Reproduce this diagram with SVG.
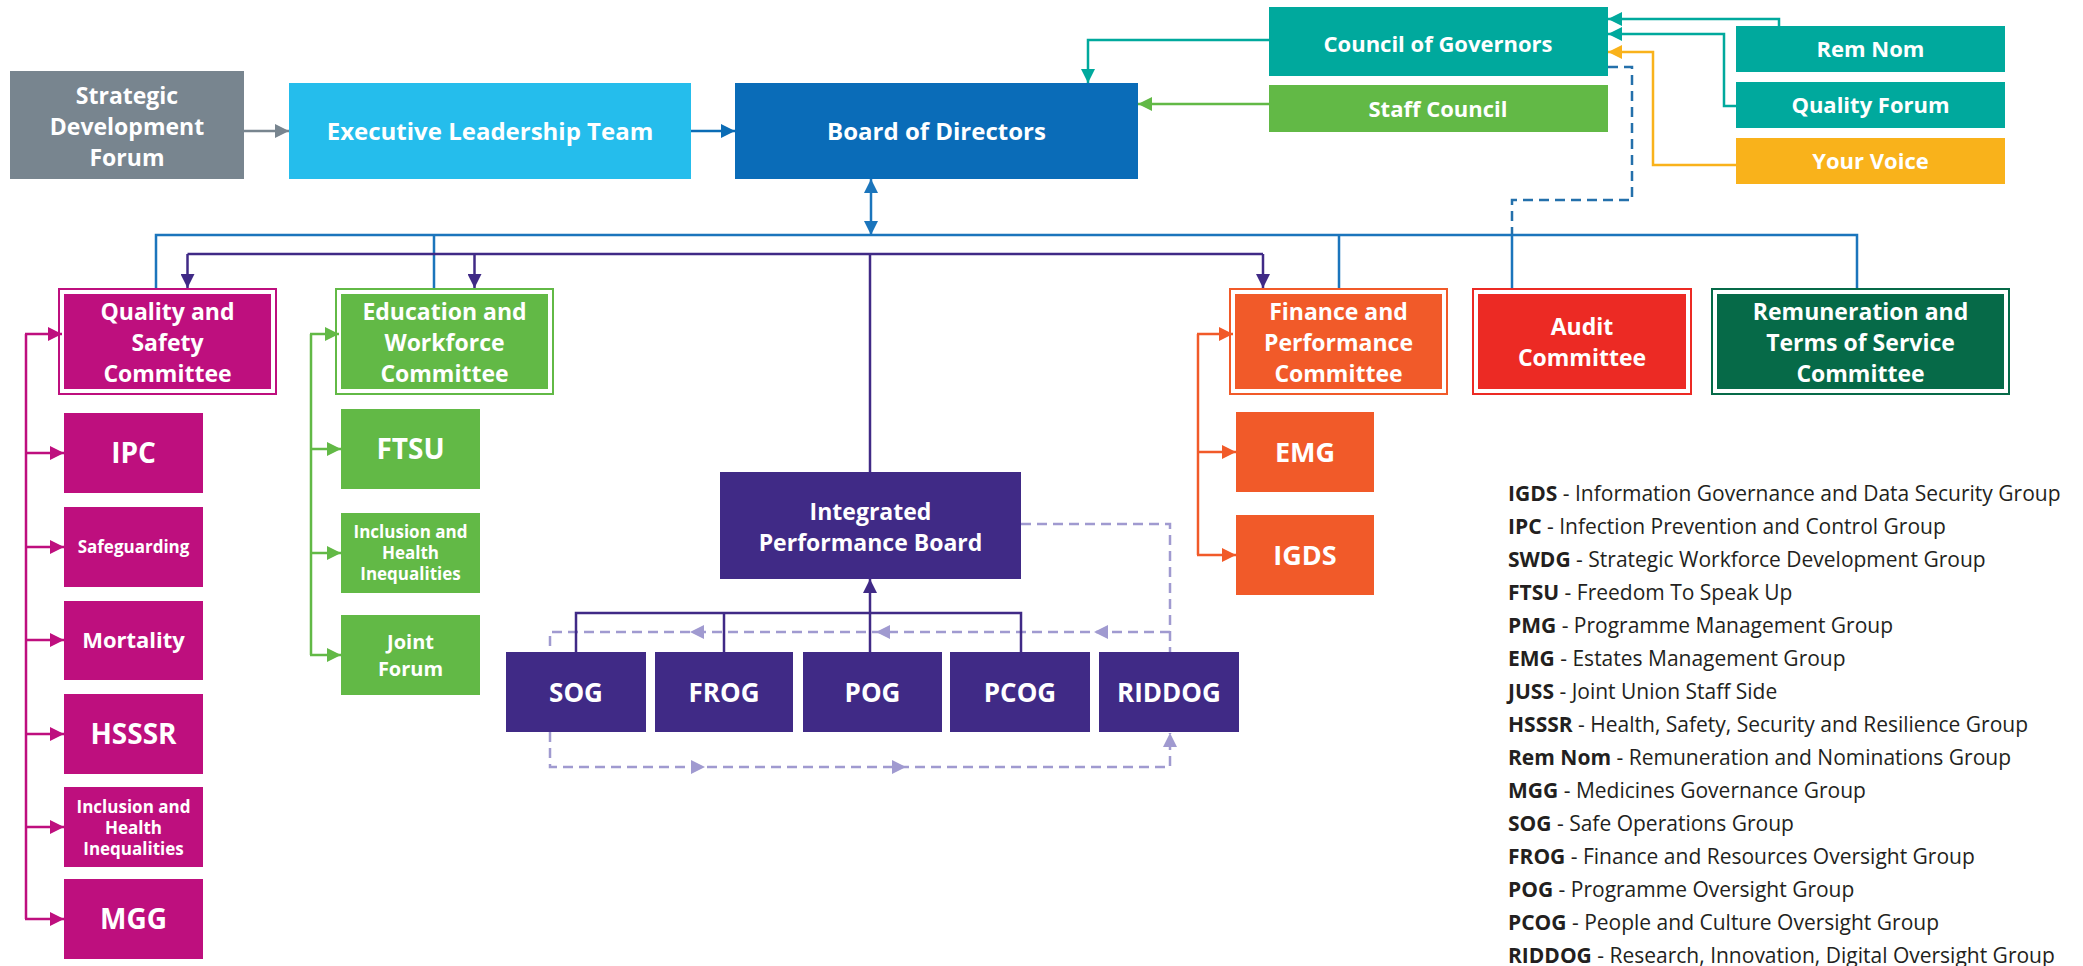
<svg xmlns="http://www.w3.org/2000/svg" width="2083" height="966" viewBox="0 0 2083 966">
<style>
.t{font-family:"Open Sans","Noto Sans",sans-serif;font-weight:700;fill:#fff;text-anchor:middle}
.lg{font-family:"Open Sans","Noto Sans",sans-serif;font-size:21px;fill:#231f20}
.b{font-weight:700}
.c{fill:none;stroke-width:2.5}
.dash{stroke-dasharray:10 6}
</style>
<defs>
<marker id="aGray" markerUnits="userSpaceOnUse" markerWidth="14" markerHeight="14" refX="14" refY="7" orient="auto"><path d="M0,0L14,7L0,14z" fill="#78858f"/></marker>
<marker id="aBoard" markerUnits="userSpaceOnUse" markerWidth="14" markerHeight="14" refX="14" refY="7" orient="auto"><path d="M0,0L14,7L0,14z" fill="#0b6cb5"/></marker>
<marker id="aBlue" markerUnits="userSpaceOnUse" markerWidth="14" markerHeight="14" refX="14" refY="7" orient="auto-start-reverse"><path d="M0,0L14,7L0,14z" fill="#1b75bc"/></marker>
<marker id="aTeal" markerUnits="userSpaceOnUse" markerWidth="14" markerHeight="14" refX="14" refY="7" orient="auto"><path d="M0,0L14,7L0,14z" fill="#00a99d"/></marker>
<marker id="aGreen" markerUnits="userSpaceOnUse" markerWidth="14" markerHeight="14" refX="14" refY="7" orient="auto"><path d="M0,0L14,7L0,14z" fill="#62b946"/></marker>
<marker id="aYellow" markerUnits="userSpaceOnUse" markerWidth="14" markerHeight="14" refX="14" refY="7" orient="auto"><path d="M0,0L14,7L0,14z" fill="#f9b21b"/></marker>
<marker id="aMag" markerUnits="userSpaceOnUse" markerWidth="14" markerHeight="14" refX="14" refY="7" orient="auto"><path d="M0,0L14,7L0,14z" fill="#be0f7e"/></marker>
<marker id="aOrange" markerUnits="userSpaceOnUse" markerWidth="14" markerHeight="14" refX="14" refY="7" orient="auto"><path d="M0,0L14,7L0,14z" fill="#f15a29"/></marker>
<marker id="aPurple" markerUnits="userSpaceOnUse" markerWidth="14" markerHeight="14" refX="14" refY="7" orient="auto"><path d="M0,0L14,7L0,14z" fill="#402a86"/></marker>
<marker id="aLav" markerUnits="userSpaceOnUse" markerWidth="14" markerHeight="14" refX="14" refY="7" orient="auto"><path d="M0,0L14,7L0,14z" fill="#a09ad0"/></marker>
</defs>
<rect width="2083" height="966" fill="#fff"/>

<g id="connectors">
  <path class="c" stroke="#78858f" d="M244,131H289" marker-end="url(#aGray)"/>
  <path class="c" stroke="#0b6cb5" d="M691,131H735" marker-end="url(#aBoard)"/>
  <path class="c" stroke="#00a99d" d="M1269,40H1088V83" marker-end="url(#aTeal)"/>
  <path class="c" stroke="#62b946" d="M1269,104H1138" marker-end="url(#aGreen)"/>
  <path class="c" stroke="#00a99d" d="M1779,26V19H1608" marker-end="url(#aTeal)"/>
  <path class="c" stroke="#00a99d" d="M1736,106H1724V34H1608" marker-end="url(#aTeal)"/>
  <path class="c" stroke="#f9b21b" d="M1736,165H1653V52H1608" marker-end="url(#aYellow)"/>
  <path class="c dash" stroke="#2470ab" d="M1608,67H1632V200H1512V235"/>
  <path class="c" stroke="#1b75bc" d="M871,179V235" marker-start="url(#aBlue)" marker-end="url(#aBlue)"/>
  <path class="c" stroke="#1b75bc" d="M156,288V235H1857V288M434,235V288M1339,235V288M1512,235V288"/>
  <path class="c" stroke="#402a86" d="M187.5,254H1263"/>
  <path class="c" stroke="#402a86" d="M187.5,254V288" marker-end="url(#aPurple)"/>
  <path class="c" stroke="#402a86" d="M474.5,254V288" marker-end="url(#aPurple)"/>
  <path class="c" stroke="#402a86" d="M1263,254V288" marker-end="url(#aPurple)"/>
  <path class="c" stroke="#402a86" d="M870,254V472"/>
  <path class="c" stroke="#be0f7e" d="M26,334V919"/>
  <path class="c" stroke="#be0f7e" d="M25,334H62" marker-end="url(#aMag)"/>
  <path class="c" stroke="#be0f7e" d="M26,453H64" marker-end="url(#aMag)"/>
  <path class="c" stroke="#be0f7e" d="M26,547H64" marker-end="url(#aMag)"/>
  <path class="c" stroke="#be0f7e" d="M26,640H64" marker-end="url(#aMag)"/>
  <path class="c" stroke="#be0f7e" d="M26,734H64" marker-end="url(#aMag)"/>
  <path class="c" stroke="#be0f7e" d="M26,827H64" marker-end="url(#aMag)"/>
  <path class="c" stroke="#be0f7e" d="M25,919H64" marker-end="url(#aMag)"/>
  <path class="c" stroke="#62b946" d="M311,334V655"/>
  <path class="c" stroke="#62b946" d="M310,334H339" marker-end="url(#aGreen)"/>
  <path class="c" stroke="#62b946" d="M311,449H341" marker-end="url(#aGreen)"/>
  <path class="c" stroke="#62b946" d="M311,553H341" marker-end="url(#aGreen)"/>
  <path class="c" stroke="#62b946" d="M310,655H341" marker-end="url(#aGreen)"/>
  <path class="c" stroke="#f15a29" d="M1198,334V555"/>
  <path class="c" stroke="#f15a29" d="M1197,334H1233" marker-end="url(#aOrange)"/>
  <path class="c" stroke="#f15a29" d="M1198,452H1236" marker-end="url(#aOrange)"/>
  <path class="c" stroke="#f15a29" d="M1197,555H1236" marker-end="url(#aOrange)"/>
  <path class="c dash" stroke="#a09ad0" d="M1021,524H1170V652M1170,632H550V652"/>
  <path class="c dash" stroke="#a09ad0" d="M550,732V767H1170V733" marker-end="url(#aLav)"/>
  <g fill="#a09ad0">
    <path d="M1094,632L1108,625V639z"/>
    <path d="M876,632L890,625V639z"/>
    <path d="M690,632L704,625V639z"/>
    <path d="M705,767L691,760V774z"/>
    <path d="M906,767L892,760V774z"/>
  </g>
  <path class="c" stroke="#402a86" d="M576,652V613H1021V652M724,613V652"/>
  <path class="c" stroke="#402a86" d="M870,652V579" marker-end="url(#aPurple)"/>
</g>

<g id="n-sdf"><rect x="10" y="71" width="234" height="108" fill="#78858f"/>
<text class="t" font-size="23"><tspan x="127" y="104">Strategic</tspan><tspan x="127" y="135">Development</tspan><tspan x="127" y="166">Forum</tspan></text></g>
<g id="n-elt"><rect x="289" y="83" width="402" height="96" fill="#25bdec"/>
<text class="t" font-size="24" x="490" y="140">Executive Leadership Team</text></g>
<g id="n-board"><rect x="735" y="83" width="403" height="96" fill="#0a6cb8"/>
<text class="t" font-size="24" x="936.5" y="140">Board of Directors</text></g>
<g id="n-cog"><rect x="1269" y="7" width="339" height="69" fill="#00a99d"/>
<text class="t" font-size="22" x="1438" y="52">Council of Governors</text></g>
<g id="n-staff"><rect x="1269" y="85" width="339" height="47" fill="#62b946"/>
<text class="t" font-size="22" x="1438" y="116.5">Staff Council</text></g>
<g id="n-remnom"><rect x="1736" y="26" width="269" height="46" fill="#00a99d"/>
<text class="t" font-size="22" x="1870.5" y="57">Rem Nom</text></g>
<g id="n-qf"><rect x="1736" y="82" width="269" height="46" fill="#00a99d"/>
<text class="t" font-size="22" x="1870.5" y="113">Quality Forum</text></g>
<g id="n-yv"><rect x="1736" y="138" width="269" height="46" fill="#f9b21b"/>
<text class="t" font-size="22" x="1870.5" y="169">Your Voice</text></g>

<g id="n-qsc"><rect x="59" y="289" width="217" height="105" fill="none" stroke="#be0f7e" stroke-width="2"/><rect x="64" y="294" width="207" height="95" fill="#be0f7e"/>
<text class="t" font-size="23"><tspan x="167.5" y="320">Quality and</tspan><tspan x="167.5" y="351">Safety</tspan><tspan x="167.5" y="382">Committee</tspan></text></g>
<g id="n-ewc"><rect x="336" y="289" width="217" height="105" fill="none" stroke="#62b946" stroke-width="2"/><rect x="341" y="294" width="207" height="95" fill="#62b946"/>
<text class="t" font-size="23"><tspan x="444.5" y="320">Education and</tspan><tspan x="444.5" y="351">Workforce</tspan><tspan x="444.5" y="382">Committee</tspan></text></g>
<g id="n-fpc"><rect x="1230" y="289" width="217" height="105" fill="none" stroke="#f15a29" stroke-width="2"/><rect x="1235" y="294" width="207" height="95" fill="#f15a29"/>
<text class="t" font-size="23"><tspan x="1338.5" y="320">Finance and</tspan><tspan x="1338.5" y="351">Performance</tspan><tspan x="1338.5" y="382">Committee</tspan></text></g>
<g id="n-audit"><rect x="1473" y="289" width="218" height="105" fill="none" stroke="#ec2a24" stroke-width="2"/><rect x="1478" y="294" width="208" height="95" fill="#ec2a24"/>
<text class="t" font-size="23"><tspan x="1582" y="335">Audit</tspan><tspan x="1582" y="366">Committee</tspan></text></g>
<g id="n-rem"><rect x="1712" y="289" width="297" height="105" fill="none" stroke="#066a48" stroke-width="2"/><rect x="1717" y="294" width="287" height="95" fill="#066a48"/>
<text class="t" font-size="23"><tspan x="1860.5" y="320">Remuneration and</tspan><tspan x="1860.5" y="351">Terms of Service</tspan><tspan x="1860.5" y="382">Committee</tspan></text></g>

<g id="n-ipc"><rect x="64" y="413" width="139" height="80" fill="#be0f7e"/><text class="t" font-size="28" x="133.5" y="463">IPC</text></g>
<g id="n-safeg"><rect x="64" y="507" width="139" height="80" fill="#be0f7e"/><text class="t" font-size="17" x="133.5" y="553">Safeguarding</text></g>
<g id="n-mort"><rect x="64" y="601" width="139" height="79" fill="#be0f7e"/><text class="t" font-size="22" x="133.5" y="648">Mortality</text></g>
<g id="n-hsssr"><rect x="64" y="694" width="139" height="80" fill="#be0f7e"/><text class="t" font-size="28" x="133.5" y="744">HSSSR</text></g>
<g id="n-incl1"><rect x="64" y="787" width="139" height="80" fill="#be0f7e"/>
<text class="t" font-size="17"><tspan x="133.5" y="813">Inclusion and</tspan><tspan x="133.5" y="834">Health</tspan><tspan x="133.5" y="855">Inequalities</tspan></text></g>
<g id="n-mgg"><rect x="64" y="879" width="139" height="80" fill="#be0f7e"/><text class="t" font-size="28" x="133.5" y="929">MGG</text></g>

<g id="n-ftsu"><rect x="341" y="409" width="139" height="80" fill="#62b946"/><text class="t" font-size="28" x="410.5" y="459">FTSU</text></g>
<g id="n-incl2"><rect x="341" y="513" width="139" height="80" fill="#62b946"/>
<text class="t" font-size="17"><tspan x="410.5" y="538">Inclusion and</tspan><tspan x="410.5" y="559">Health</tspan><tspan x="410.5" y="580">Inequalities</tspan></text></g>
<g id="n-joint"><rect x="341" y="615" width="139" height="80" fill="#62b946"/>
<text class="t" font-size="20"><tspan x="410.5" y="649">Joint</tspan><tspan x="410.5" y="676">Forum</tspan></text></g>

<g id="n-emg"><rect x="1236" y="412" width="138" height="80" fill="#f15a29"/><text class="t" font-size="27" x="1305" y="462">EMG</text></g>
<g id="n-igds"><rect x="1236" y="515" width="138" height="80" fill="#f15a29"/><text class="t" font-size="27" x="1305" y="565">IGDS</text></g>

<g id="n-ipb"><rect x="720" y="472" width="301" height="107" fill="#402a86"/>
<text class="t" font-size="23"><tspan x="870.5" y="520">Integrated</tspan><tspan x="870.5" y="551">Performance Board</tspan></text></g>
<g id="n-sog"><rect x="506" y="652" width="140" height="80" fill="#402a86"/><text class="t" font-size="26" x="576" y="702">SOG</text></g>
<g id="n-frog"><rect x="655" y="652" width="138" height="80" fill="#402a86"/><text class="t" font-size="26" x="724" y="702">FROG</text></g>
<g id="n-pog"><rect x="803" y="652" width="139" height="80" fill="#402a86"/><text class="t" font-size="26" x="872.5" y="702">POG</text></g>
<g id="n-pcog"><rect x="950" y="652" width="140" height="80" fill="#402a86"/><text class="t" font-size="26" x="1020" y="702">PCOG</text></g>
<g id="n-riddog"><rect x="1099" y="652" width="140" height="80" fill="#402a86"/><text class="t" font-size="26" x="1169" y="702">RIDDOG</text></g>

<g id="legend" class="lg">
<text x="1508" y="501"><tspan class="b">IGDS</tspan> - Information Governance and Data Security Group</text>
<text x="1508" y="534"><tspan class="b">IPC</tspan> - Infection Prevention and Control Group</text>
<text x="1508" y="567"><tspan class="b">SWDG</tspan> - Strategic Workforce Development Group</text>
<text x="1508" y="600"><tspan class="b">FTSU</tspan> - Freedom To Speak Up</text>
<text x="1508" y="633"><tspan class="b">PMG</tspan> - Programme Management Group</text>
<text x="1508" y="666"><tspan class="b">EMG</tspan> - Estates Management Group</text>
<text x="1508" y="699"><tspan class="b">JUSS</tspan> - Joint Union Staff Side</text>
<text x="1508" y="732"><tspan class="b">HSSSR</tspan> - Health, Safety, Security and Resilience Group</text>
<text x="1508" y="765"><tspan class="b">Rem Nom</tspan> - Remuneration and Nominations Group</text>
<text x="1508" y="798"><tspan class="b">MGG</tspan> - Medicines Governance Group</text>
<text x="1508" y="831"><tspan class="b">SOG</tspan> - Safe Operations Group</text>
<text x="1508" y="864"><tspan class="b">FROG</tspan> - Finance and Resources Oversight Group</text>
<text x="1508" y="897"><tspan class="b">POG</tspan> - Programme Oversight Group</text>
<text x="1508" y="930"><tspan class="b">PCOG</tspan> - People and Culture Oversight Group</text>
<text x="1508" y="963"><tspan class="b">RIDDOG</tspan> - Research, Innovation, Digital Oversight Group</text>
</g>
</svg>
